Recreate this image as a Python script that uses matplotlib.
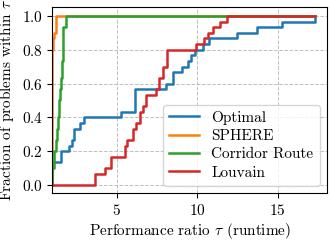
import numpy as np
import matplotlib
matplotlib.use("Agg")
import matplotlib.pyplot as plt

plt.rcParams["font.family"] = "cmr10"
plt.rcParams["mathtext.fontset"] = "cm"
plt.rcParams["axes.formatter.use_mathtext"] = True
plt.rcParams["font.size"] = 11

# performance ratios per problem (30 problems)
methods = ["Optimal", "SPHERE", "Corridor Route", "Louvain"]
optimal = [1, 1, 1, 1, 1.56, 1.56, 2.04, 2.19, 2.33, 2.33, 2.7, 2.97, 5.29,
           6.16, 6.16, 6.16, 6.16, 8.08, 8.5, 8.5, 9.06, 9.43, 9.64, 9.84,
           10.36, 10.73, 12.5, 13.7, 15.3, 17.36]
sphere = [1] * 24 + [1.03, 1.03, 1.1, 1.19, 1.25, 1.25]
corridor = [1, 1, 1, 1.08, 1.12, 1.12, 1.2, 1.2, 1.27, 1.27, 1.33, 1.33,
            1.38, 1.38, 1.38, 1.45, 1.45, 1.52, 1.52, 1.58, 1.58, 1.58,
            1.63, 1.63, 1.68, 1.68, 1.68, 1.68, 1.87, 1.87]
louvain = [3.63, 3.63, 4.25, 4.63, 4.63, 5.54, 5.54, 5.66, 6.01, 6.01, 6.22,
           6.43, 6.43, 6.63, 6.84, 6.84, 7.46, 7.63, 7.63, 7.88, 7.88,
           8.12, 8.12, 8.12, 9.9, 10.4, 10.67, 10.98, 11.45, 11.83]
colors = ["#1f77b4", "#ff7f0e", "#2ca02c", "#d62728"]

all_ratios = [optimal, sphere, corridor, louvain]
tau_max = max(max(r) for r in all_ratios)

fig = plt.figure(figsize=(3.3, 2.4), dpi=100)
ax = fig.add_axes([0.159, 0.194, 0.833, 0.775])

for name, r, c in zip(methods, all_ratios, colors):
    r = np.sort(np.array(r, dtype=float))
    n = len(r)
    x = np.concatenate([[1.0], r, [tau_max]])
    y = np.concatenate([[0.0], np.arange(1, n + 1) / n, [1.0]])
    ax.step(x, y, where="post", color=c, lw=1.8, label=name)

ax.set_xlim(1, 18.1)
ax.set_ylim(-0.05, 1.05)
ax.set_xticks([5, 10, 15])
ax.set_yticks([0.0, 0.2, 0.4, 0.6, 0.8, 1.0])
ax.grid(True, ls="--", color="#b0b0b0", lw=0.7, alpha=0.8)
ax.set_xlabel(r"Performance ratio $\tau$ (runtime)", labelpad=2)
ax.set_ylabel(r"Fraction of problems within $\tau$")
ax.legend(loc="lower right", labelspacing=0.3)

fig.savefig("out.png", dpi=100)
